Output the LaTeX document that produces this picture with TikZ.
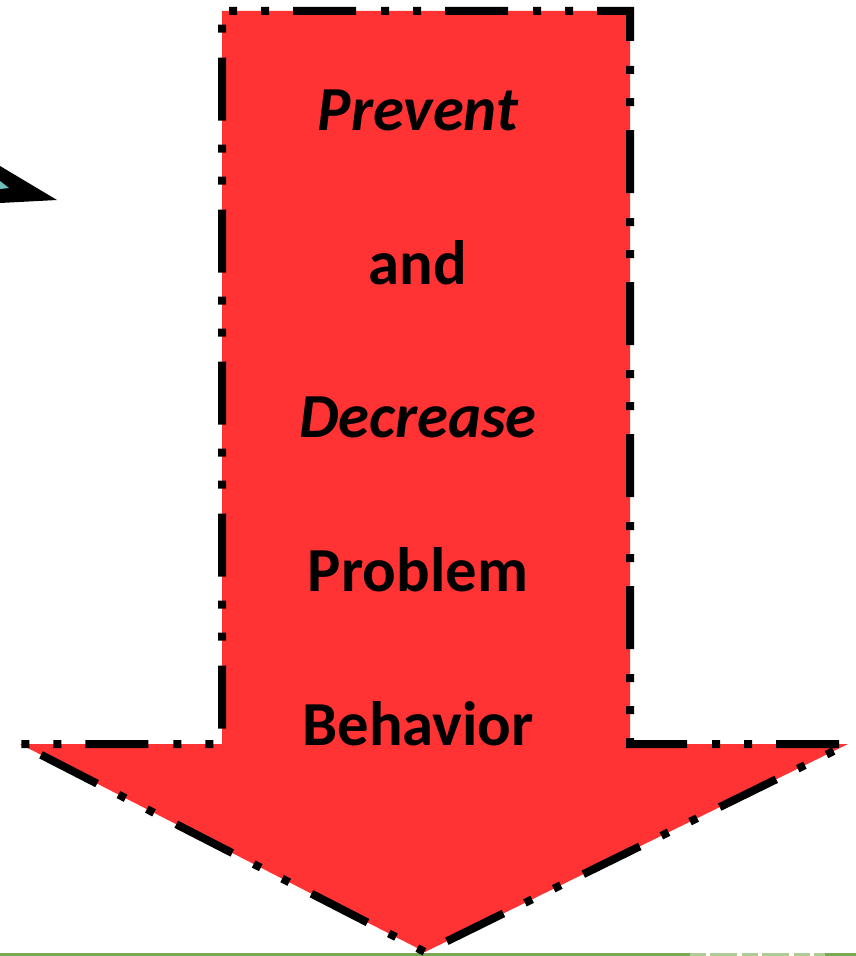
\documentclass[tikz,border=0pt]{standalone}
\usepackage{fontspec}
\setmainfont{Carlito}
\definecolor{arrowred}{RGB}{255,51,51}
\definecolor{tealfill}{RGB}{110,192,190}
\definecolor{groundgreen}{RGB}{122,168,84}
\begin{document}
\begin{tikzpicture}[x=0.75pt,y=-0.75pt,
  outline/.style={draw=black,line width=6pt,line join=miter,miter limit=10,
    dash pattern=on 47.25pt off 18.75pt on 6pt off 18pt on 6pt off 18pt,
    dash phase=60.75pt},
  label/.style={font=\fontsize{47}{50}\selectfont\bfseries,anchor=center,inner sep=0pt}]
\useasboundingbox (0,0) rectangle (856,956);
% ground line along the bottom edge
\draw[draw=groundgreen,line width=1.8pt] (0,954.3) -- (690,954.3);
\draw[draw=groundgreen!60,line width=1.8pt,dash pattern=on 12pt off 3pt on 20pt off 4pt] (690,954.3) -- (825,954.3);
\draw[draw=groundgreen,line width=1.8pt] (825,954.3) -- (856,954.3);
% head of a neighbouring arrow, clipped at the left edge
\fill[black] (0,166) -- (57,200) -- (0,203) -- cycle;
\fill[tealfill] (0,181) -- (9,188) -- (0,189) -- cycle;
% big down arrow
\path[fill=arrowred,outline]
  (222,11) -- (630,11) -- (630,744) -- (848,744) -- (425,952)
  -- (20,744) -- (222,744) -- cycle;
\node[label] (t1) at (418,110) {\itshape Prevent};
\node[label] (t2) at (418,263) {and};
\node[label] (t3) at (418,417) {\itshape Decrease};
\node[label] (t4) at (418,570) {Problem};
\node[label] (t5) at (418,724) {Behavior};
\end{tikzpicture}
\end{document}
